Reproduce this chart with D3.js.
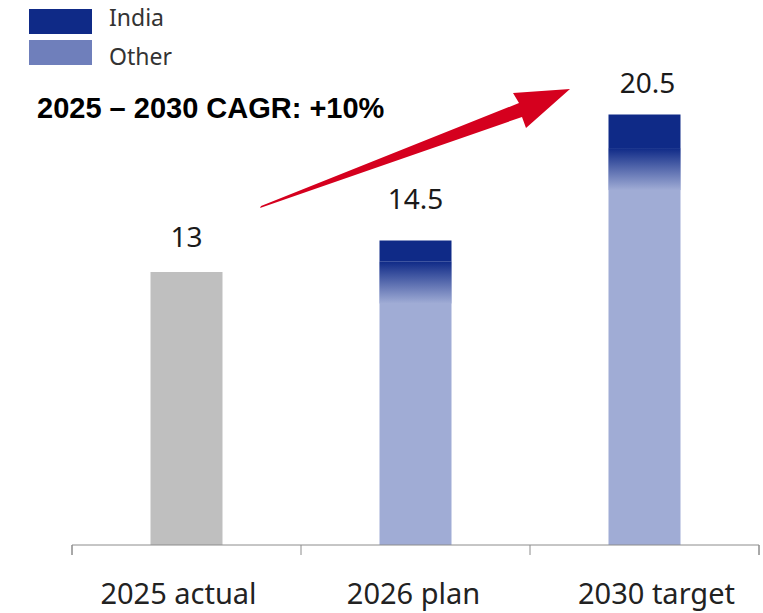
<!DOCTYPE html>
<html>
<head>
<meta charset="utf-8">
<script src="https://cdn.jsdelivr.net/npm/d3@7/dist/d3.min.js"></script>
<style>
  html, body { margin: 0; padding: 0; background: #fff; }
  svg { display: block; }
</style>
</head>
<body>
<svg id="chart" width="763" height="613"></svg>
<script>
// Revenue by period (units as shown on the labels)
const categories = ["2025 actual", "2026 plan", "2030 target"];
const totals     = [13, 14.5, 20.5];
const india      = [0, 1.0, 1.6];
const other      = [13, 13.5, 18.9];
const isActual   = [true, false, false];
const cagrText   = "2025 \u2013 2030 CAGR: +10%";

const colors = { india: "#0f2a87", other: "#a0acd5", otherLegend: "#6f7fbb", actual: "#bfbfbf", arrow: "#d5001e" };

const svg = d3.select("#chart");
const margin = { left: 72, right: 4, top: 0, bottom: 68 };
const W = 763, H = 613;
const baseY = H - margin.bottom;

const x = d3.scaleBand().domain(categories).range([margin.left, W - margin.right]).paddingInner(0).paddingOuter(0);
const y = d3.scaleLinear().domain([0, 26]).range([baseY, baseY - 26 * 21]);
const barW = 72;

const defs = svg.append("defs");
const fade = defs.append("linearGradient").attr("id", "fade").attr("x1", 0).attr("y1", 0).attr("x2", 0).attr("y2", 1);
fade.append("stop").attr("offset", 0).attr("stop-color", colors.india);
fade.append("stop").attr("offset", 1).attr("stop-color", colors.other);

const rows = categories.map((c, i) => ({ c, total: totals[i], india: india[i], other: other[i], actual: isActual[i] }));
const g = svg.append("g");

rows.forEach(d => {
  const x0 = x(d.c) + (x.bandwidth() - barW) / 2;
  if (d.actual) {
    g.append("rect").attr("x", x0).attr("y", y(d.total)).attr("width", barW)
      .attr("height", y(0) - y(d.total)).attr("fill", colors.actual);
  } else {
    // Other segment
    g.append("rect").attr("x", x0).attr("y", y(d.other)).attr("width", barW)
      .attr("height", y(0) - y(d.other)).attr("fill", colors.other);
    // soft transition below the India segment
    const fadeH = 42;
    g.append("rect").attr("x", x0).attr("y", y(d.other)).attr("width", barW)
      .attr("height", fadeH).attr("fill", "url(#fade)");
    // India segment
    g.append("rect").attr("x", x0).attr("y", y(d.total)).attr("width", barW)
      .attr("height", y(d.other) - y(d.total)).attr("fill", colors.india);
  }
});

// value labels
const labelGap = [25, 32, 22];
g.selectAll("text.val").data(rows).join("text")
  .attr("class", "val")
  .attr("x", d => x(d.c) + x.bandwidth() / 2)
  .attr("dx", (d, i) => i === 2 ? 3 : 0)
  .attr("y", (d, i) => y(d.total) - labelGap[i])
  .attr("text-anchor", "middle")
  .attr("font-family", "Noto Sans, sans-serif")
  .attr("font-size", 28)
  .attr("fill", "#1a1a1a")
  .text(d => String(d.total));

// x axis
const axis = d3.axisBottom(x).tickSize(10).tickFormat("");
const ax = svg.append("g").attr("transform", `translate(0,${baseY})`).call(axis);
ax.select(".domain").attr("stroke", "#8c8c8c").attr("d", `M${margin.left},10V0H${W - margin.right}V10`);
ax.selectAll(".tick").remove();
// boundary ticks between categories
const bounds = [margin.left, ...categories.map(c => x(c) + x.bandwidth())];
ax.selectAll("line.b").data(bounds).join("line").attr("class", "b")
  .attr("x1", d => d).attr("x2", d => d).attr("y1", 0).attr("y2", 10)
  .attr("stroke", "#8c8c8c");

const catShift = [-8, -2, 12];
svg.selectAll("text.cat").data(categories).join("text")
  .attr("class", "cat")
  .attr("x", (d, i) => x(d) + x.bandwidth() / 2 + catShift[i])
  .attr("y", 604)
  .attr("text-anchor", "middle")
  .attr("font-family", "Noto Sans, sans-serif")
  .attr("font-size", 29)
  .attr("fill", "#222")
  .text(d => d);

// legend
const legend = [{ k: "India", c: colors.india }, { k: "Other", c: colors.otherLegend }];
const lg = svg.append("g");
legend.forEach((l, i) => {
  lg.append("rect").attr("x", 29).attr("y", 9 + i * 31).attr("width", 63).attr("height", 25).attr("fill", l.c);
  lg.append("text").attr("x", 109).attr("y", 26 + i * 39)
    .attr("font-family", "Noto Sans, sans-serif").attr("font-size", 23).attr("fill", "#333")
    .text(l.k);
});

// CAGR annotation
svg.append("text").attr("x", 37).attr("y", 118)
  .attr("font-family", "Liberation Sans, Arial, sans-serif").attr("font-weight", "bold")
  .attr("font-size", 29).attr("fill", "#000").text(cagrText);

// tapered arrow
const arrowPts = [[260, 208], [261, 206], [519, 103], [513, 93], [570, 89], [526, 128], [522, 117]];
svg.append("path").attr("d", d3.line()(arrowPts) + "Z").attr("fill", colors.arrow);
</script>
</body>
</html>
